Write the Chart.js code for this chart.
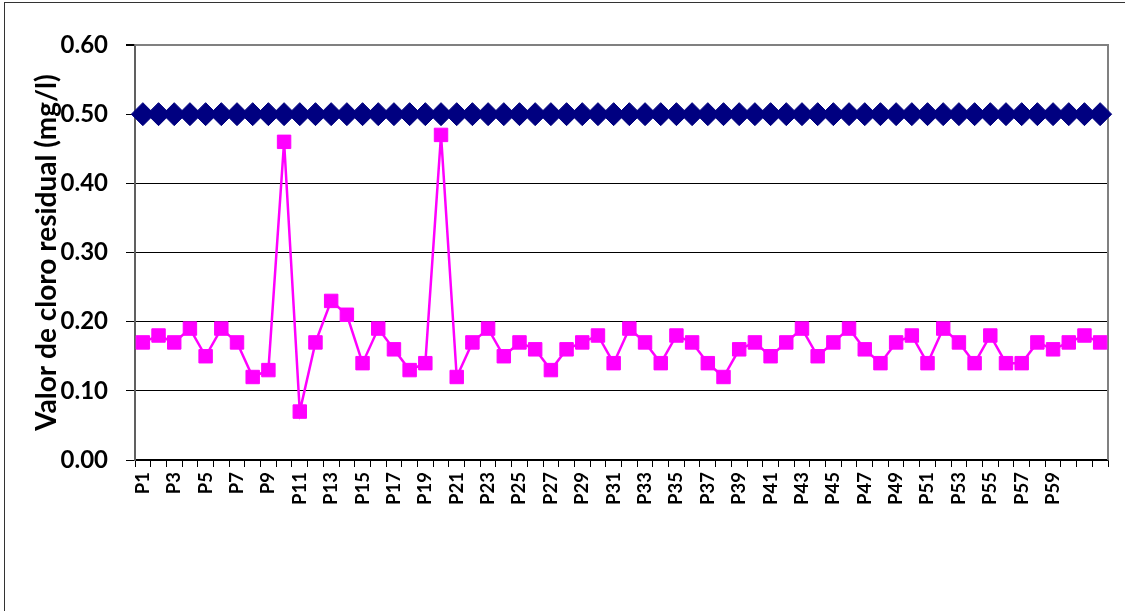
<!DOCTYPE html>
<html>
<head>
<meta charset="utf-8">
<title>Cloro residual</title>
<script src="https://cdn.jsdelivr.net/npm/chart.js@4.4.1/dist/chart.umd.min.js"></script>
<style>
	body{ margin:0; background:#fff; overflow:hidden; }
	#marco{ position:absolute; left:4px; top:2px; width:1300px; height:800px; border:1px solid #333; }
	#grafico{ position:absolute; left:0; top:0; }
</style>
</head>
<body>
<div id="marco"></div>
<canvas id="grafico" width="1125" height="611"></canvas>
<script>
// Datos del grafico
const categorias = ['P1','P2','P3','P4','P5','P6','P7','P8','P9','P10',
	'P11','P12','P13','P14','P15','P16','P17','P18','P19','P20',
	'P21','P22','P23','P24','P25','P26','P27','P28','P29','P30',
	'P31','P32','P33','P34','P35','P36','P37','P38','P39','P40',
	'P41','P42','P43','P44','P45','P46','P47','P48','P49','P50',
	'P51','P52','P53','P54','P55','P56','P57','P58','P59','P60',
	'P61','P62'];

const cloroResidual = [0.17,0.18,0.17,0.19,0.15,0.19,0.17,0.12,0.13,0.46,
	0.07,0.17,0.23,0.21,0.14,0.19,0.16,0.13,0.14,0.47,
	0.12,0.17,0.19,0.15,0.17,0.16,0.13,0.16,0.17,0.18,
	0.14,0.19,0.17,0.14,0.18,0.17,0.14,0.12,0.16,0.17,
	0.15,0.17,0.19,0.15,0.17,0.19,0.16,0.14,0.17,0.18,
	0.14,0.19,0.17,0.14,0.18,0.14,0.14,0.17,0.16,0.17,
	0.18,0.17];

const limiteMaximo = [0.50,0.50,0.50,0.50,0.50,0.50,0.50,0.50,0.50,0.50,
	0.50,0.50,0.50,0.50,0.50,0.50,0.50,0.50,0.50,0.50,
	0.50,0.50,0.50,0.50,0.50,0.50,0.50,0.50,0.50,0.50,
	0.50,0.50,0.50,0.50,0.50,0.50,0.50,0.50,0.50,0.50,
	0.50,0.50,0.50,0.50,0.50,0.50,0.50,0.50,0.50,0.50,
	0.50,0.50,0.50,0.50,0.50,0.50,0.50,0.50,0.50,0.50,
	0.50,0.50];

const ejeY = { min: 0, max: 0.6, paso: 0.1 };
const tituloY = 'Valor de cloro residual (mg/l)';

const fuente = 'Lato, "Open Sans", sans-serif';

// borde gris del area de trazado (arriba y derecha)
const bordeArea = {
	id: 'bordeArea',
	beforeDatasetsDraw(chart){
		let ctx = chart.ctx;
		let a = chart.chartArea;
		ctx.save();
		ctx.strokeStyle = '#808080';
		ctx.lineWidth = 2;
		ctx.beginPath();
		ctx.moveTo(a.left, a.top);
		ctx.lineTo(a.right, a.top);
		ctx.lineTo(a.right, a.bottom);
		ctx.stroke();
		ctx.restore();
	}
};

document.addEventListener('DOMContentLoaded', () => {
	Chart.defaults.color = '#000';
	Chart.defaults.font.family = fuente;

	let ctx = document.querySelector('#grafico').getContext('2d');
	new Chart(ctx, {
		type: 'line',
		data: {
			labels: categorias,
			datasets: [{
				label: 'Cloro residual',
				data: cloroResidual,
				borderColor: '#ff00ff',
				backgroundColor: '#ff00ff',
				borderWidth: 2.5,
				pointStyle: 'rect',
				pointRadius: 9.5,
				pointBorderWidth: 1,
				tension: 0
			}, {
				label: 'Límite máximo',
				data: limiteMaximo,
				borderColor: '#000080',
				backgroundColor: '#000080',
				borderWidth: 2.5,
				pointStyle: 'rectRot',
				pointRadius: 11.5,
				pointBorderWidth: 1,
				tension: 0
			}]
		},
		options: {
			responsive: false,
			animation: false,
			layout: { padding: { left: 5, top: 45, right: 17, bottom: 0 } },
			plugins: {
				legend: { display: false },
				tooltip: { enabled: false }
			},
			scales: {
				x: {
					offset: true,
					afterFit: (scale) => {
						scale.height = 151;
						//que las etiquetas no muevan el area de trazado
						scale.paddingLeft = 0;
						scale.paddingRight = 0;
					},
					grid: {
						offset: true,
						drawOnChartArea: false,
						tickLength: 7,
						color: '#000'
					},
					border: { color: '#000', width: 1.5 },
					ticks: {
						autoSkip: false,
						minRotation: 90,
						maxRotation: 90,
						padding: 5,
						font: { size: 18.5, weight: 'bold' },
						callback: function(v, i){
							//solo una de cada dos etiquetas, hasta P59
							return (i % 2 === 0 && i < 60) ? categorias[i] : '';
						}
					}
				},
				y: {
					min: ejeY.min,
					max: ejeY.max,
					afterFit: (scale) => {
						scale.width = 130;
						scale.paddingTop = 0;
						scale.paddingBottom = 0;
					},
					grid: {
						color: (c) => c.tick && Math.abs(c.tick.value - ejeY.max) < 1e-9 ? '#808080' : '#000',
						lineWidth: (c) => c.tick && Math.abs(c.tick.value - ejeY.max) < 1e-9 ? 2 : 1,
						tickColor: '#000',
						tickLength: 9
					},
					border: { color: '#606060', width: 2 },
					ticks: {
						stepSize: ejeY.paso,
						padding: 18,
						font: { size: 24, weight: 'bold' },
						callback: (v) => v.toFixed(2)
					},
					title: {
						display: true,
						text: tituloY,
						padding: { top: 25, bottom: 0 },
						font: { size: 28, weight: 'bold' }
					}
				}
			}
		},
		plugins: [bordeArea]
	});
});
</script>
</body>
</html>
